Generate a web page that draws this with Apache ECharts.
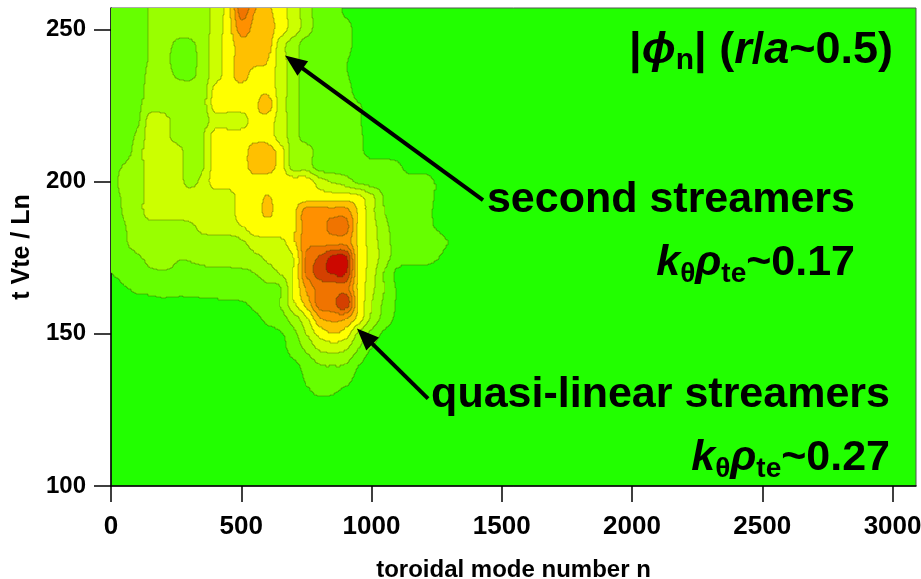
<!DOCTYPE html>
<html>
<head>
<meta charset="utf-8">
<script src="https://cdn.jsdelivr.net/npm/echarts@6/dist/echarts.min.js"></script>
<style>
  html, body { margin: 0; padding: 0; background: #fff; }
  #main { width: 921px; height: 579px; }
</style>
</head>
<body>
<div id="main"></div>
<script>
// grid nodes of the |phi_n| map (toroidal mode number n, time t Vte/Ln)
const nNodes = [0, 50, 100, 150, 200, 250, 300, 350, 400, 450, 500, 550, 600, 650,
  700, 750, 800, 850, 900, 950, 1000, 1050, 1100, 1150, 1200, 1250, 1300, 1350];
const tNodes = [260, 255, 250, 245, 240, 235, 230, 225, 220, 215, 210, 205, 200, 195,
  190, 185, 180, 175, 170, 165, 160, 155, 150, 145, 140, 135, 130, 125];

// contour level read at each node, one row per time
const t260 = [1, 1, 1, 1.6, 2, 2, 2, 2, 3, 4, 7.6, 6, 4.6, 4, 3, 2, 1, 1, 0.4, 0, 0, 0, 0, 0, 0, 0, 0, 0];
const t255 = [1, 1, 1, 1.6, 2, 2, 2, 2, 3, 4, 6.8, 5.5, 4.8, 4, 3, 2, 1, 1, 0.4, 0, 0, 0, 0, 0, 0, 0, 0, 0];
const t250 = [1, 1, 1, 1.6, 2, 2, 2, 2, 3, 4, 6, 5.2, 5, 4, 3, 2, 1, 1, 1, 0, 0, 0, 0, 0, 0, 0, 0, 0];
const t245 = [1, 1, 1, 1.6, 2, 1.3, 1.2, 2, 3, 4, 5, 5, 5, 3, 2, 1, 1, 1, 1, 0, 0, 0, 0, 0, 0, 0, 0, 0];
const t240 = [1, 1, 1, 1.6, 2, 1, 1, 2, 3, 4, 5, 5, 4.6, 3, 2, 1, 1, 1, 0.6, 0, 0, 0, 0, 0, 0, 0, 0, 0];
const t235 = [1, 1, 1, 1.8, 2, 1.4, 1.2, 2, 3, 4, 5, 4, 4, 3, 2, 1, 1, 1, 0.6, 0, 0, 0, 0, 0, 0, 0, 0, 0];
const t230 = [1, 1, 1, 2, 2, 2, 2, 2, 3.8, 4, 4, 4, 4.3, 3, 2, 1, 1, 1, 1, 0, 0, 0, 0, 0, 0, 0, 0, 0];
const t225 = [1, 1, 1.2, 2, 2, 2, 2, 2, 4, 4, 4, 4.3, 5, 3, 2, 1, 1, 1, 1, 0.6, 0, 0, 0, 0, 0, 0, 0, 0];
const t220 = [1, 1, 1.2, 3, 3, 2, 2, 2, 3, 3, 3, 4, 4, 3, 2, 1, 1, 1, 1, 0.6, 0, 0, 0, 0, 0, 0, 0, 0];
const t215 = [1, 1, 1.7, 3, 3, 2, 2, 2.3, 4, 4, 4, 4, 4, 3, 2, 1, 1, 1, 1, 0.7, 0, 0, 0, 0, 0, 0, 0, 0];
const t210 = [1, 1, 2, 3, 3, 3, 2, 2.3, 4, 4, 4, 5, 5, 4, 2, 2, 1, 1, 1, 0.8, 0, 0, 0, 0, 0, 0, 0, 0];
const t205 = [1, 1.6, 2, 3, 3, 3, 2, 2.3, 4, 4, 4, 5, 5, 4, 2, 2, 1, 1, 1, 1, 1, 1, 0.7, 0, 0, 0, 0, 0];
const t200 = [1, 2, 2, 3, 3, 3, 2.2, 2.8, 4, 4, 4, 4, 4, 4, 4, 4, 3, 2.4, 2, 1.3, 1, 1, 1, 1, 1, 0.4, 0, 0];
const t195 = [1, 1.7, 2, 3, 3, 3, 3, 3, 3, 3, 4, 4, 4.55, 4, 4, 4, 4, 4, 4, 3.7, 2.7, 1.4, 1, 1, 1, 0.4, 0, 0];
const t190 = [1, 1.6, 2, 3, 3, 3, 3, 3, 3, 3, 4, 4, 4.7, 4, 4.3, 6, 6, 6, 6, 4.4, 2.8, 1.5, 1, 1, 1, 0.3, 0, 0];
const t185 = [1, 1.4, 2, 2, 2, 2, 2.2, 2.8, 3, 3, 3.4, 4, 4, 4.2, 4.3, 6, 6, 6.9, 6.9, 4.4, 3, 1.8, 1, 1, 1, 0.4, 0, 0];
const t180 = [1, 1.3, 2, 2, 2, 2, 2, 2, 2, 2, 2.3, 3, 3.3, 3.2, 4.3, 6.2, 6.2, 6.2, 6.2, 4.4, 3, 2, 1, 1, 1, 1, 0.4, 0];
const t175 = [1, 1, 1.3, 1.8, 2, 1.6, 1.6, 1.8, 2, 2, 2, 2.2, 2.7, 3, 3.4, 6.6, 7.6, 8.7, 8.7, 4.5, 3.2, 2, 1, 1, 1, 0.6, 0, 0];
const t170 = [0.5, 0.9, 1.1, 1.3, 1.4, 1.3, 1.2, 1.2, 1.2, 1.2, 1.3, 1.5, 2, 2.6, 3.5, 6.6, 8, 8.6, 8.6, 4.5, 3, 1.4, 0.3, 0, 0, 0, 0, 0];
const t165 = [0.1, 0.4, 0.7, 0.8, 0.9, 0.9, 0.9, 0.9, 1, 1, 1, 1.1, 1.3, 1.4, 3.5, 5.6, 6.9, 6.8, 7, 4.4, 2.8, 1.5, 0.4, 0, 0, 0, 0, 0];
const t160 = [0, 0.1, 0.2, 0.2, 0.3, 0.2, 0.2, 0.3, 0.3, 0.35, 0.4, 0.7, 1, 1.5, 3.3, 4.9, 7, 7.2, 8.3, 4.6, 2.5, 1.3, 0.4, 0, 0, 0, 0, 0];
const t155 = [0, 0, 0, 0, 0, 0, 0, 0, 0, 0, 0, 0.3, 0.7, 1.1, 2, 3.3, 5.3, 5.8, 5.6, 4.1, 2.3, 1.1, 0.3, 0, 0, 0, 0, 0];
const t150 = [0, 0, 0, 0, 0, 0, 0, 0, 0, 0, 0, 0, 0.2, 0.4, 1.2, 2.5, 3.8, 4.4, 4, 2.3, 1.2, 0.3, 0, 0, 0, 0, 0, 0];
const t145 = [0, 0, 0, 0, 0, 0, 0, 0, 0, 0, 0, 0, 0, 0.2, 0.9, 1.7, 2.6, 2.8, 2.6, 1.5, 0.45, 0, 0, 0, 0, 0, 0, 0];
const t140 = [0, 0, 0, 0, 0, 0, 0, 0, 0, 0, 0, 0, 0, 0, 0.3, 0.9, 1.5, 1.6, 1.5, 0.6, 0, 0, 0, 0, 0, 0, 0, 0];
const t135 = [0, 0, 0, 0, 0, 0, 0, 0, 0, 0, 0, 0, 0, 0, 0, 0.6, 1.1, 1, 0.8, 0.2, 0, 0, 0, 0, 0, 0, 0, 0];
const t130 = [0, 0, 0, 0, 0, 0, 0, 0, 0, 0, 0, 0, 0, 0, 0, 0.3, 0.55, 0.5, 0.2, 0, 0, 0, 0, 0, 0, 0, 0, 0];
const t125 = [0, 0, 0, 0, 0, 0, 0, 0, 0, 0, 0, 0, 0, 0, 0, 0, 0, 0, 0, 0, 0, 0, 0, 0, 0, 0, 0, 0];

const phiGrid = [t260, t255, t250, t245, t240, t235, t230, t225, t220, t215, t210, t205, t200, t195,
  t190, t185, t180, t175, t170, t165, t160, t155, t150, t145, t140, t135, t130, t125];

const levelColors = ['#22ff00', '#66ff00', '#99ff00', '#ccff00', '#ffff00',
  '#ffc000', '#ff9000', '#f07400', '#d44000', '#cc0800'];

const nTicks = [0, 500, 1000, 1500, 2000, 2500, 3000];
const tTicks = [100, 150, 200, 250];

// arrows: tail (n, t) and tip (n, t)
const arrowTails = [[1428, 193.9], [1217, 128.7]];
const arrowTips = [[668, 241.4], [944, 151.7]];

const FONT = 'Liberation Sans, Arial, sans-serif';
const EDGE = 'rgba(70, 80, 0, 0.4)';
const SUB = 12;
const nRows = tNodes.length, nCols = nNodes.length;
const RR = (nRows - 1) * SUB, CC = (nCols - 1) * SUB;

const clampI = (v, n) => Math.max(0, Math.min(n - 1, v));
function node(j, i) { return phiGrid[clampI(j, nRows)][clampI(i, nCols)]; }
function cr(p0, p1, p2, p3, t) {
  return 0.5 * (2 * p1 + (p2 - p0) * t + (2 * p0 - 5 * p1 + 4 * p2 - p3) * t * t +
    (3 * p1 - p0 - 3 * p2 + p3) * t * t * t);
}
function levelOf(v) {
  return Math.max(0, Math.min(levelColors.length - 1, Math.floor(v + 0.5)));
}

// contour level on a fine sub-grid (Catmull-Rom between the nodes)
const levelRaster = [];
for (let R = 0; R < RR; R++) {
  const j = Math.floor(R / SUB), fy = (R % SUB + 0.5) / SUB;
  const row = [];
  for (let i = 0; i < nCols - 1; i++) {
    const cv = [];
    for (let q = -1; q <= 2; q++) {
      cv.push(cr(node(j - 1, i + q), node(j, i + q), node(j + 1, i + q), node(j + 2, i + q), fy));
    }
    for (let k = 0; k < SUB; k++) {
      row.push(levelOf(cr(cv[0], cv[1], cv[2], cv[3], (k + 0.5) / SUB)));
    }
  }
  levelRaster.push(row);
}
const lev = (R, C) => (R < 0 || R >= RR || C < 0 || C >= CC) ? 0 : levelRaster[R][C];

const cells = [];
for (let j = 0; j < nRows - 1; j++) {
  for (let i = 0; i < nCols - 1; i++) {
    let any = false;
    for (let R = j * SUB - 1; R <= (j + 1) * SUB && !any; R++) {
      for (let C = i * SUB - 1; C <= (i + 1) * SUB; C++) {
        if (lev(R, C) > 0) { any = true; break; }
      }
    }
    if (any) cells.push([nNodes[i], tNodes[j], i, j]);
  }
}

// filled contour bands with thin outlines, one grid cell per data item
function renderCell(params, api) {
  const i = api.value(2), j = api.value(3);
  const p0 = api.coord([nNodes[i], tNodes[j]]);
  const p1 = api.coord([nNodes[i + 1], tNodes[j + 1]]);
  const xs = [], ys = [];
  for (let k = 0; k <= SUB; k++) {
    xs.push(Math.round(p0[0] + (p1[0] - p0[0]) * k / SUB));
    ys.push(Math.round(p0[1] + (p1[1] - p0[1]) * k / SUB));
  }
  const fills = [], edges = [];
  for (let r = 0; r < SUB; r++) {
    const R = j * SUB + r;
    const ya = ys[r], yb = ys[r + 1];
    if (yb <= ya) continue;
    let runStart = xs[0];
    let runLevel = -1;
    for (let k = 0; k <= SUB; k++) {
      const C = i * SUB + k;
      const L = k < SUB ? lev(R, C) : -2;
      if (L !== runLevel) {
        if (runLevel > 0 && xs[k] > runStart) {
          fills.push({
            type: 'rect',
            shape: { x: runStart, y: ya, width: xs[k] - runStart, height: yb - ya },
            style: { fill: levelColors[runLevel] }
          });
        }
        runStart = xs[k];
        runLevel = L;
      }
      if (k < SUB) {
        if (L !== lev(R, C + 1)) {
          edges.push({ type: 'rect', shape: { x: xs[k + 1] - 0.5, y: ya, width: 1, height: yb - ya },
            style: { fill: EDGE } });
        }
        if (L !== lev(R + 1, C) && xs[k + 1] > xs[k]) {
          edges.push({ type: 'rect', shape: { x: xs[k], y: yb - 0.5, width: xs[k + 1] - xs[k], height: 1 },
            style: { fill: EDGE } });
        }
      }
    }
  }
  return { type: 'group', children: fills.concat(edges) };
}

// annotation arrows: shaft plus filled head
function renderArrow(params, api) {
  const a = api.coord([api.value(0), api.value(1)]);
  const b = api.coord([api.value(2), api.value(3)]);
  const dx = b[0] - a[0], dy = b[1] - a[1];
  const len = Math.sqrt(dx * dx + dy * dy);
  const ux = dx / len, uy = dy / len;
  const headL = 22, headW = 9;
  const bx = b[0] - ux * headL, by = b[1] - uy * headL;
  return {
    type: 'group',
    children: [
      { type: 'line', shape: { x1: a[0], y1: a[1], x2: bx + ux * 2, y2: by + uy * 2 },
        style: { stroke: '#000', lineWidth: 4 } },
      { type: 'polygon', shape: { points: [[b[0], b[1]], [bx - uy * headW, by + ux * headW], [bx + uy * headW, by - ux * headW]] },
        style: { fill: '#000' } }
    ]
  };
}

const chart = echarts.init(document.getElementById('main'), null, { renderer: 'canvas' });

const mainTxt = (size, italic) => ({
  fontFamily: FONT, fontWeight: 'bold', fontStyle: italic ? 'italic' : 'normal',
  fontSize: size, color: '#000', lineHeight: size + 6, verticalAlign: 'middle'
});
const subTxt = (size, lh) => ({
  fontFamily: FONT, fontWeight: 'bold', fontSize: size, color: '#000',
  lineHeight: lh, verticalAlign: 'bottom'
});

chart.setOption({
  animation: false,
  backgroundColor: '#fff',
  grid: {
    left: 111, top: 8, right: 5, bottom: 93,
    outerBoundsMode: 'none',
    containLabel: false,
    show: true, backgroundColor: levelColors[0],
    borderColor: '#555', borderWidth: 1
  },
  xAxis: {
    type: 'value', min: 0, max: 3090,
    name: 'toroidal mode number n', nameLocation: 'middle', nameGap: 72,
    nameTextStyle: { fontFamily: FONT, fontWeight: 'bold', fontSize: 24, color: '#000' },
    axisLine: { show: true, lineStyle: { color: '#000', width: 1.5 } },
    axisTick: { show: true, length: 16, customValues: nTicks, lineStyle: { color: '#000', width: 1.5 } },
    axisLabel: {
      customValues: nTicks, margin: 28, color: '#000',
      fontFamily: FONT, fontWeight: 'bold', fontSize: 26,
      formatter: v => String(v)
    },
    splitLine: { show: false }
  },
  yAxis: {
    type: 'value', min: 100, max: 257,
    name: 't Vte / Ln', nameLocation: 'middle', nameGap: 76,
    nameTextStyle: { fontFamily: FONT, fontWeight: 'bold', fontSize: 25, color: '#000' },
    axisLine: { show: true, lineStyle: { color: '#000', width: 1.5 } },
    axisTick: { show: true, length: 17, customValues: tTicks, lineStyle: { color: '#000', width: 1.5 } },
    axisLabel: {
      customValues: tTicks, margin: 25, color: '#000',
      fontFamily: FONT, fontWeight: 'bold', fontSize: 24,
      formatter: v => String(v)
    },
    splitLine: { show: false }
  },
  series: [{
    type: 'custom',
    coordinateSystem: 'cartesian2d',
    clip: true,
    silent: true,
    progressive: 0,
    encode: { x: 0, y: 1 },
    renderItem: renderCell,
    data: cells
  }, {
    type: 'custom',
    coordinateSystem: 'cartesian2d',
    silent: true,
    encode: { x: [0, 2], y: [1, 3] },
    renderItem: renderArrow,
    data: arrowTails.map((tl, k) => [tl[0], tl[1], arrowTips[k][0], arrowTips[k][1]]),
    z: 5
  }],
  graphic: [
    {
      type: 'text', x: 893, y: 25, silent: true,
      style: {
        align: 'right', verticalAlign: 'top',
        text: '{b||}{i|ϕ}{s|n}{b|| (}{i|r}{b|/}{i|a}{b|~0.5)}',
        rich: { b: mainTxt(45, false), i: mainTxt(45, true), s: subTxt(30, 26) }
      }
    },
    {
      type: 'text', x: 855, y: 176, silent: true,
      style: {
        align: 'right', verticalAlign: 'top',
        text: '{b|second streamers}',
        rich: { b: mainTxt(43, false) }
      }
    },
    {
      type: 'text', x: 855, y: 239, silent: true,
      style: {
        align: 'right', verticalAlign: 'top',
        text: '{i|k}{s|θ}{i|ρ}{s|te}{b|~0.17}',
        rich: { b: mainTxt(43, false), i: mainTxt(43, true), s: subTxt(28, 18) }
      }
    },
    {
      type: 'text', x: 890, y: 371, silent: true,
      style: {
        align: 'right', verticalAlign: 'top',
        text: '{b|quasi-linear streamers}',
        rich: { b: mainTxt(43, false) }
      }
    },
    {
      type: 'text', x: 890, y: 434, silent: true,
      style: {
        align: 'right', verticalAlign: 'top',
        text: '{i|k}{s|θ}{i|ρ}{s|te}{b|~0.27}',
        rich: { b: mainTxt(43, false), i: mainTxt(43, true), s: subTxt(28, 18) }
      }
    }
  ]
});
</script>
</body>
</html>
